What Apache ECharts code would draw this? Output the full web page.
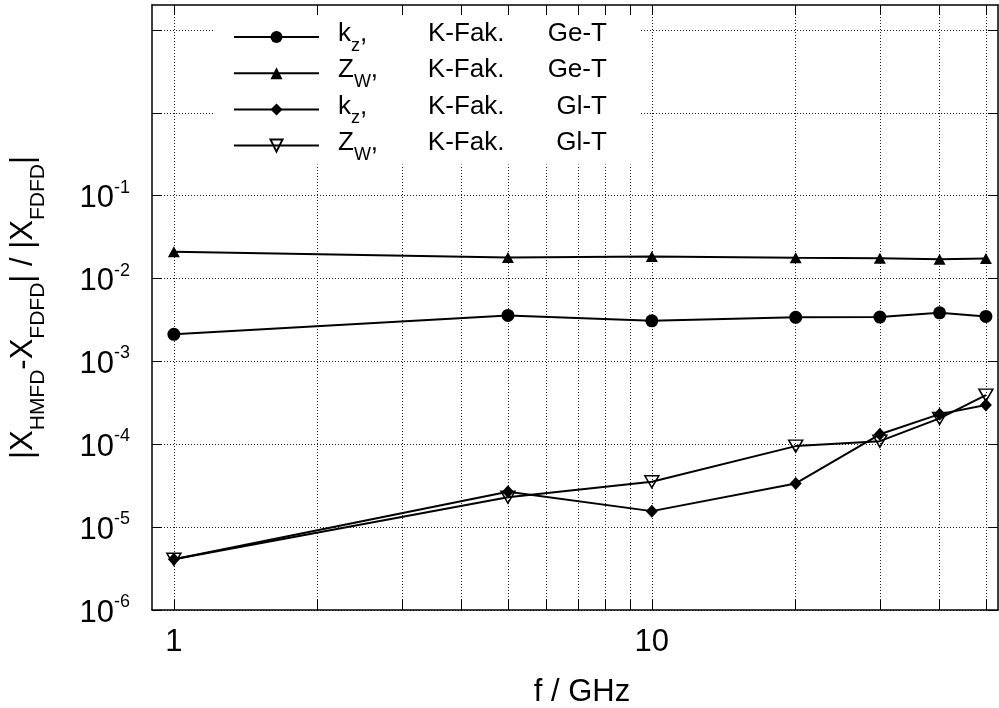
<!DOCTYPE html>
<html>
<head>
<meta charset="utf-8">
<title>HMFD vs FDFD</title>
<script src="https://cdn.jsdelivr.net/npm/echarts@6/dist/echarts.min.js"></script>
<style>
  html, body { margin: 0; padding: 0; background: #fff; }
  #chart { width: 999px; height: 708px; }
</style>
</head>
<body>
<div id="chart"></div>
<script>
// frequency in GHz
var freq = [1, 5, 10, 20, 30, 40, 50]
// |X_HMFD - X_FDFD| / |X_FDFD|
var kzGeT = [2.12e-3, 3.59e-3, 3.09e-3, 3.40e-3, 3.43e-3, 3.86e-3, 3.49e-3]
var zwGeT = [2.10e-2, 1.80e-2, 1.84e-2, 1.78e-2, 1.76e-2, 1.71e-2, 1.75e-2]
var kzGlT = [4.1e-6, 2.67e-5, 1.56e-5, 3.37e-5, 1.32e-4, 2.31e-4, 2.97e-4]
var zwGlT = [4.1e-6, 2.29e-5, 3.53e-5, 9.5e-5, 1.09e-4, 2.05e-4, 3.92e-4]

var xTicks = [1, 2, 3, 4, 5, 6, 7, 8, 9, 10, 20, 30, 40, 50]
var xLabels = [1, 10]
var yTicks = [1e-6, 1e-5, 1e-4, 1e-3, 1e-2, 1e-1, 1, 10]
var yLabels = [1e-6, 1e-5, 1e-4, 1e-3, 1e-2, 1e-1]

var names = ['k_z, K-Fak. Ge-T', 'Z_W, K-Fak. Ge-T', 'k_z, K-Fak. Gl-T', 'Z_W, K-Fak. Gl-T']
var legendText = [
  '{p|k}{s|z}{c1|,}{f|K-Fak.}{e|Ge-T}',
  '{p|Z}{s|W}{c2|,}{f|K-Fak.}{e|Ge-T}',
  '{p|k}{s|z}{c1|,}{f|K-Fak.}{e|Gl-T}',
  '{p|Z}{s|W}{c2|,}{f|K-Fak.}{e|Gl-T}'
]

var FONT = 'Liberation Sans'
var black = '#000'

function pairs(ys) {
  return freq.map(function (f, i) { return [f, ys[i]] })
}

var chart = echarts.init(document.getElementById('chart'))

var frameLine = { show: true, onZero: false, lineStyle: { color: black, width: 1.5 } }
var gridLine = { show: true, lineStyle: { color: '#222', width: 1, type: [1, 2] } }

function lineSeries(name, ys, symbol, size, itemStyle) {
  return {
    name: name,
    type: 'line',
    data: pairs(ys),
    symbol: symbol,
    symbolSize: size,
    itemStyle: itemStyle,
    lineStyle: { color: black, width: 2 },
    emphasis: { disabled: true },
    animation: false
  }
}

chart.setOption({
  backgroundColor: '#fff',
  animation: false,
  textStyle: { fontFamily: FONT, color: black },
  grid: { left: 152, right: 1, top: 5, bottom: 98, containLabel: false, outerBoundsMode: 'none' },
  legend: {
    orient: 'vertical',
    left: 213,
    top: 16,
    padding: [5, 34, 1, 20],
    backgroundColor: '#fff',
    itemWidth: 85,
    itemHeight: 15,
    itemGap: 2.2,
    selectedMode: false,
    data: names,
    lineStyle: { color: black, width: 2 },
    formatter: function (name) {
      return legendText[names.indexOf(name)]
    },
    textStyle: {
      fontFamily: FONT,
      fontSize: 26,
      color: black,
      rich: {
        p: { fontSize: 26, padding: [0, 0, 6, 14] },
        s: { fontSize: 18, padding: [18, 0, 0, 0] },
        c1: { fontSize: 26, padding: [0, 0, 6, 0], width: 68 },
        c2: { fontSize: 26, padding: [0, 0, 6, 0], width: 57 },
        f: { fontSize: 26, padding: [0, 0, 6, 0], width: 80 },
        e: { fontSize: 26, padding: [0, 0, 6, 0], width: 99, align: 'right' }
      }
    }
  },
  xAxis: [{
    type: 'log',
    logBase: 10,
    min: 0.9,
    max: 53,
    position: 'bottom',
    name: 'f / GHz',
    nameLocation: 'middle',
    nameGap: 67,
    nameTextStyle: { fontSize: 31, color: black, padding: [0, 0, 0, 14] },
    axisLine: frameLine,
    axisTick: { show: true, inside: true, length: 10, customValues: xTicks, lineStyle: { color: black, width: 1 } },
    axisLabel: {
      customValues: xLabels,
      fontSize: 31,
      color: black,
      margin: 17,
      formatter: function (v) { return String(v) }
    },
    minorTick: { show: false },
    splitLine: gridLine
  }, {
    type: 'log',
    logBase: 10,
    min: 0.9,
    max: 53,
    position: 'top',
    axisLine: frameLine,
    axisTick: { show: true, inside: true, length: 10, customValues: xTicks, lineStyle: { color: black, width: 1 } },
    axisLabel: { show: false },
    splitLine: { show: false }
  }],
  yAxis: [{
    type: 'log',
    logBase: 10,
    min: 1e-6,
    max: 20,
    position: 'left',
    name: '{t||X}{u|HMFD}{t|-X}{u|FDFD}{t|| / |X}{u|FDFD}{t||}',
    nameLocation: 'middle',
    nameRotate: 90,
    nameGap: 103,
    nameTextStyle: {
      color: black,
      rich: {
        t: { fontSize: 31 },
        u: { fontSize: 21, padding: [30, 0, 0, 0] }
      }
    },
    axisLine: frameLine,
    axisTick: { show: true, inside: true, length: 10, customValues: yTicks, lineStyle: { color: black, width: 1 } },
    axisLabel: {
      customValues: yLabels,
      margin: 22,
      color: black,
      formatter: function (v) {
        return '{b|10}{s|' + Math.round(Math.log10(v)) + '}'
      },
      rich: {
        b: { fontSize: 31, padding: [6, 0, 0, 0] },
        s: { fontSize: 18, padding: [0, 0, 16, 0] }
      }
    },
    minorTick: { show: false },
    splitLine: gridLine
  }, {
    type: 'log',
    logBase: 10,
    min: 1e-6,
    max: 20,
    position: 'right',
    axisLine: frameLine,
    axisTick: { show: true, inside: true, length: 10, customValues: yTicks, lineStyle: { color: black, width: 1 } },
    axisLabel: { show: false },
    splitLine: { show: false }
  }],
  series: [
    lineSeries(names[0], kzGeT, 'circle', 13, { color: black }),
    lineSeries(names[1], zwGeT, 'triangle', [12, 11], { color: black }),
    lineSeries(names[2], kzGlT, 'diamond', [12, 13], { color: black }),
    // open (outline only) down triangle
    lineSeries(names[3], zwGlT, 'path://M0,0L14,0L7,12Z', [14, 12], { color: 'rgba(255,255,255,0)', borderColor: black, borderWidth: 1.5 })
  ]
})
</script>
</body>
</html>
